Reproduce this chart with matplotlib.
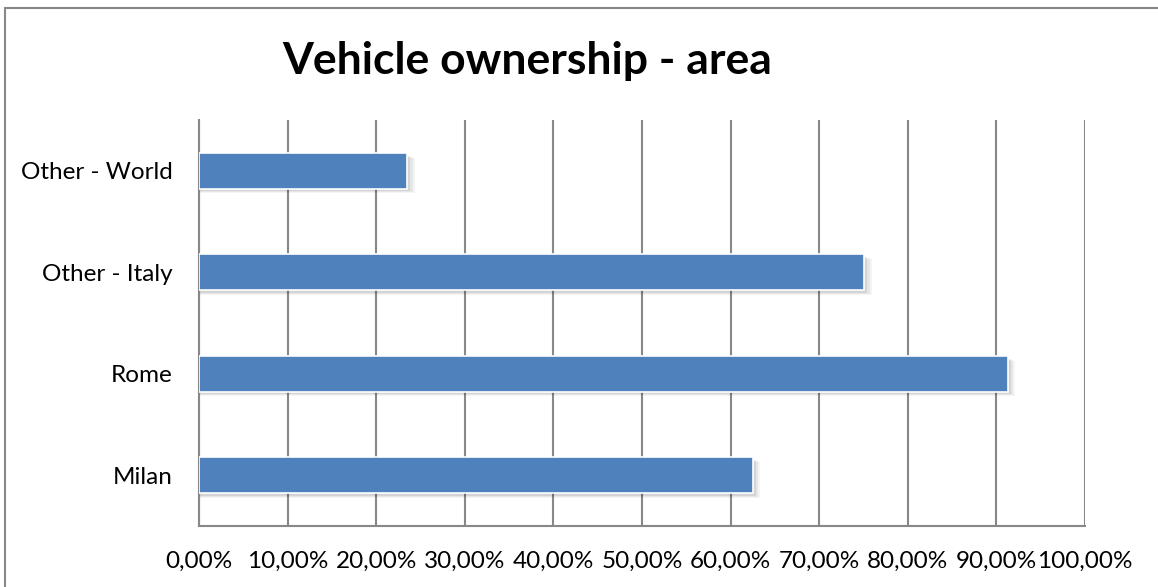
import matplotlib.pyplot as plt
from matplotlib.patches import Rectangle

areas = ['Milan', 'Rome', 'Other - Italy', 'Other - World']
shares = [62.5, 91.3, 75.1, 23.5]
ticks = [0, 10, 20, 30, 40, 50, 60, 70, 80, 90, 100]
tick_labels = ['%d,00%%' % t for t in ticks]

plt.rcParams['font.family'] = ['Lato', 'DejaVu Sans']

W, H = 1158, 587
fig = plt.figure(figsize=(W / 100, H / 100), dpi=100)
ax = fig.add_axes([199 / W, 1 - 526 / H, 886 / W, 406 / H])

# outer chart border (only top/left visible in the crop)
fig.patches.append(Rectangle((5 / W, -0.1), 1.2, 1 - 8 / H + 0.1, transform=fig.transFigure,
                             fill=False, edgecolor='#888888', linewidth=1.5))

pos = range(len(areas))
h = 0.35
# soft shadow under each bar
for i, v in zip(pos, shares):
    for k, a in enumerate([0.08, 0.06, 0.04]):
        ax.barh(i - 0.025 - 0.01 * k, v + 0.35 + 0.25 * k, height=h, color='black', alpha=a,
                linewidth=0, zorder=2)
ax.barh(list(pos), shares, height=h, color='#4F81BD', edgecolor='white', linewidth=1.2, zorder=3)

ax.set_xlim(0, 100)
ax.set_ylim(-0.5, len(areas) - 0.5)
ax.set_xticks(ticks)
ax.set_xticklabels(tick_labels, fontsize=17.5)
ax.set_yticks(list(pos))
ax.set_yticklabels(areas, fontsize=17.5)
ax.tick_params(length=0, pad=18, axis='x')
ax.tick_params(length=0, pad=19, axis='y')
ax.xaxis.grid(True, color='#888888', linewidth=1.5, zorder=0)
ax.set_axisbelow(True)
for s in ['top', 'right']:
    ax.spines[s].set_visible(False)
for s in ['left', 'bottom']:
    ax.spines[s].set_color('#888888')
    ax.spines[s].set_linewidth(1.5)

fig.text(527 / W, 1 - 61 / H, 'Vehicle ownership - area', ha='center', va='center',
         fontsize=32, fontweight='bold')

fig.savefig('out.png', dpi=100)
